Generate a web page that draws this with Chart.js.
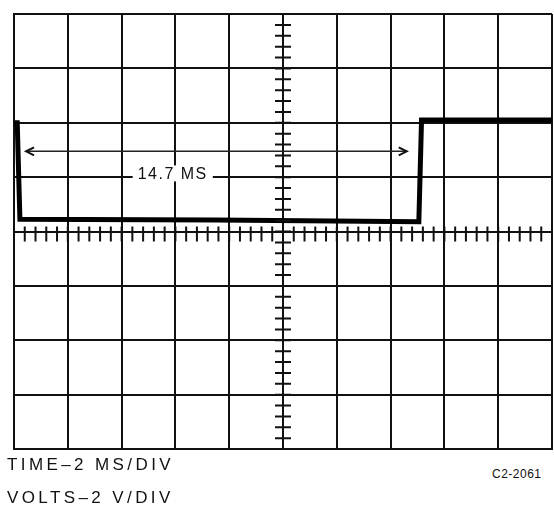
<!DOCTYPE html>
<html>
<head>
<meta charset="utf-8">
<script src="https://cdn.jsdelivr.net/npm/chart.js@4.4.1/dist/chart.umd.min.js"></script>
<style>
  html, body { margin: 0; padding: 0; background: #fff; }
  body { width: 554px; height: 509px; position: relative; overflow: hidden; font-family: "Liberation Sans", Arial, sans-serif; }
  #wrap { position: absolute; left: 0; top: 0; width: 554px; height: 462px; }
  .cap { position: absolute; left: 7px; font-size: 17px; letter-spacing: 3.4px; color: #111; }
  #figno { position: absolute; left: 492px; top: 467px; font-size: 12px; letter-spacing: 0.5px; color: #111; }
</style>
</head>
<body>
<div id="wrap"><canvas id="scope"></canvas></div>
<div class="cap" style="top:455px">TIME–2 MS/DIV</div>
<div class="cap" style="top:488px">VOLTS–2 V/DIV</div>
<div id="figno">C2-2061</div>
<script>
  // trace: time in ms, amplitude in volts
  const timeMs = [0, 0.12, 0.22, 7.5, 15.05, 15.15, 20];
  const volts = [4.0, 4.0, 0.45, 0.42, 0.36, 4.1, 4.1];

  // 10 x 8 division graticule at 2 ms/div, 2 V/div
  const xRange = [0, 20];
  const yRange = [-8, 8];
  const divStep = { x: 2, y: 2 };
  const minorPerDiv = 5;

  // pulse width marker
  const markerTimes = [0.45, 14.6];
  const markerVolts = 2.95;
  const markerLabel = '14.7 MS';
  const labelAt = { t: 5.9, v: 2.1 };

  // ✏️ center axis minor ticks, arrowheads and the width label
  const scopeMarks = {
    id: 'scopeMarks',
    afterDatasetsDraw(chart) {
      const { ctx, scales: { x, y } } = chart;
      const cx = x.getPixelForValue(10);
      const cy = y.getPixelForValue(0);
      ctx.save();
      ctx.strokeStyle = '#111';
      ctx.lineWidth = 2;
      ctx.beginPath();
      const nx = (xRange[1] - xRange[0]) / divStep.x * minorPerDiv;
      for (let i = 1; i < nx; i++) {
        const px = x.getPixelForValue(xRange[0] + i * divStep.x / minorPerDiv);
        ctx.moveTo(px, cy - 5);
        ctx.lineTo(px, cy + 10);
      }
      const ny = (yRange[1] - yRange[0]) / divStep.y * minorPerDiv;
      for (let i = 1; i < ny; i++) {
        const py = y.getPixelForValue(yRange[0] + i * divStep.y / minorPerDiv);
        ctx.moveTo(cx - 8, py);
        ctx.lineTo(cx + 8, py);
      }
      ctx.stroke();

      // arrowheads on the width marker
      const my = y.getPixelForValue(markerVolts);
      const ax0 = x.getPixelForValue(markerTimes[0]);
      const ax1 = x.getPixelForValue(markerTimes[1]);
      ctx.lineWidth = 2;
      ctx.beginPath();
      ctx.moveTo(ax0 + 8, my - 4); ctx.lineTo(ax0, my); ctx.lineTo(ax0 + 8, my + 4);
      ctx.moveTo(ax1 - 8, my - 4); ctx.lineTo(ax1, my); ctx.lineTo(ax1 - 8, my + 4);
      ctx.stroke();

      // label over the grid line
      ctx.font = '16px "Liberation Sans", Arial, sans-serif';
      ctx.letterSpacing = '1.5px';
      ctx.textBaseline = 'middle';
      const lx = x.getPixelForValue(labelAt.t);
      const ly = y.getPixelForValue(labelAt.v);
      const w = ctx.measureText(markerLabel).width;
      ctx.fillStyle = '#fff';
      ctx.fillRect(lx - w / 2 - 5, ly - 9, w + 10, 16);
      ctx.fillStyle = '#111';
      ctx.textAlign = 'center';
      ctx.fillText(markerLabel, lx, ly);
      ctx.restore();
    }
  };

  const gridOpts = {
    color: '#111',
    lineWidth: 2,
    drawTicks: false
  };

  new Chart(document.getElementById('scope'), {
    type: 'line',
    data: {
      datasets: [
        {
          label: 'trace',
          data: timeMs.map((t, i) => ({ x: t, y: volts[i] })),
          borderColor: '#000',
          borderWidth: 5,
          pointRadius: 0,
          tension: 0,
          fill: false
        },
        {
          label: 'width',
          data: markerTimes.map(t => ({ x: t, y: markerVolts })),
          borderColor: '#222',
          borderWidth: 1.5,
          pointRadius: 0,
          fill: false
        }
      ]
    },
    options: {
      responsive: true,
      maintainAspectRatio: false,
      animation: false,
      layout: { padding: { left: 14, top: 14, right: 2, bottom: 13 } },
      plugins: { legend: { display: false }, tooltip: { enabled: false } },
      scales: {
        x: {
          type: 'linear',
          min: xRange[0], max: xRange[1],
          ticks: { display: false, stepSize: divStep.x },
          grid: gridOpts,
          border: { display: true, color: '#111', width: 2 }
        },
        y: {
          type: 'linear',
          min: yRange[0], max: yRange[1],
          ticks: { display: false, stepSize: divStep.y },
          grid: gridOpts,
          border: { display: true, color: '#111', width: 2 }
        }
      }
    },
    plugins: [scopeMarks]
  });
</script>
</body>
</html>
